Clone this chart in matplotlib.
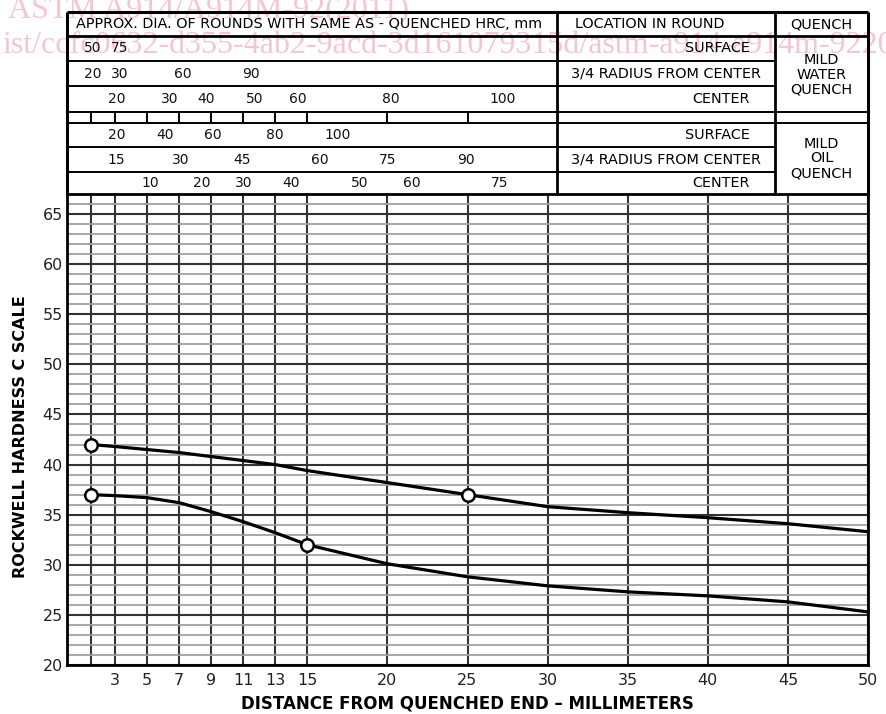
import matplotlib
matplotlib.use("Agg")
import matplotlib.pyplot as plt

plt.rcParams["font.family"] = ["DejaVu Sans"]

# jominy curve (distance mm, HRC)
distancia = [1.5, 3, 5, 7, 9, 11, 13, 15, 20, 25, 30, 35, 40, 45, 50]
dureza_sup = [42.0, 41.8, 41.5, 41.2, 40.8, 40.4, 40.0, 39.4, 38.2, 37.0, 35.8, 35.2, 34.7, 34.1, 33.3]
dureza_inf = [37.0, 36.9, 36.7, 36.2, 35.3, 34.3, 33.2, 32.0, 30.1, 28.8, 27.9, 27.3, 26.9, 26.3, 25.3]
marcas_sup = [0, 9]   # open circles at 1.5 and 25 mm
marcas_inf = [0, 7]   # open circles at 1.5 and 15 mm

x_grade = [1.5, 3, 5, 7, 9, 11, 13, 15, 20, 25, 30, 35, 40, 45, 50]
x_rotulos = ["", "3", "5", "7", "9", "11", "13", "15", "20", "25", "30", "35", "40", "45", "50"]
y_ticks = [20, 25, 30, 35, 40, 45, 50, 55, 60, 65]

# round diameters (mm) and where they sit on the distance scale
agua_sup = ["50", "75"]
agua_sup_x = [1.6, 3.3]
agua_34 = ["20", "30", "60", "90"]
agua_34_x = [1.6, 3.3, 7.2, 11.5]
agua_centro = ["20", "30", "40", "50", "60", "80", "100"]
agua_centro_x = [3.1, 6.4, 8.7, 11.7, 14.4, 20.2, 27.2]
oleo_sup = ["20", "40", "60", "80", "100"]
oleo_sup_x = [3.1, 6.1, 9.1, 13.0, 16.9]
oleo_34 = ["15", "30", "45", "60", "75", "90"]
oleo_34_x = [3.1, 7.1, 10.9, 15.8, 20.0, 24.9]
oleo_centro = ["10", "20", "30", "40", "50", "60", "75"]
oleo_centro_x = [5.2, 8.4, 11.0, 14.0, 18.3, 21.5, 27.0]
marcas_faixa = [1.5, 3, 5, 7, 9, 11, 13, 15, 20, 25]

locais = ["SURFACE", "3/4 RADIUS FROM CENTER", "CENTER"]

W, H = 886, 714
fig = plt.figure(figsize=(W / 100, H / 100), dpi=100)

# marca d'agua
rosa = "#f5c6cf"
fig.text(8 / W, 1 - 17 / H, "ASTM A914/A914M-92(2011)", family="Liberation Serif",
         fontsize=23, color=rosa, va="baseline", ha="left", zorder=-5)
fig.text(2 / W, 1 - 53 / H, "ist/ccfc0632-d355-4ab2-9acd-3d161079315d/astm-a914-a914m-922011",
         family="Liberation Serif", fontsize=23, color=rosa, va="baseline", ha="left", zorder=-5)

# 1. grafico
ax = fig.add_axes([67 / W, 49 / H, 801 / W, 471 / H])
ax.set_xlim(0, 50)
ax.set_ylim(20, 67)
ax.set_xticks(x_grade)
ax.set_xticklabels(x_rotulos)
ax.set_yticks(y_ticks)
ax.set_yticks(range(20, 67), minor=True)
ax.tick_params(axis="both", which="both", length=0, labelsize=11.5, labelcolor="#222222")
ax.tick_params(axis="x", pad=6)
ax.tick_params(axis="y", pad=3)
ax.set_axisbelow(True)
ax.grid(axis="y", which="minor", color="#a0a0a0", lw=1.3)
ax.grid(axis="y", which="major", color="#333333", lw=1.5)
ax.grid(axis="x", which="major", color="#333333", lw=1.5)
for s in ax.spines.values():
    s.set_linewidth(2)
    s.set_color("black")

ax.plot(distancia, dureza_sup, color="black", lw=2.3, marker="o", markevery=marcas_sup,
        ms=9, mfc="white", mec="black", mew=1.8, zorder=5, clip_on=False)
ax.plot(distancia, dureza_inf, color="black", lw=2.3, marker="o", markevery=marcas_inf,
        ms=9, mfc="white", mec="black", mew=1.8, zorder=5, clip_on=False)

ax.set_ylabel("ROCKWELL HARDNESS C SCALE", fontsize=11.5, fontweight="bold")
ax.yaxis.set_label_coords(-0.049, 0.485)
ax.set_xlabel("DISTANCE FROM QUENCHED END \u2013 MILLIMETERS", fontsize=12, fontweight="bold")
ax.xaxis.set_label_coords(0.5, -0.062)

# 2. tabela acima do grafico (mesma escala em x, y em pixels do topo)
tb = fig.add_axes([67 / W, (H - 194) / H, 801 / W, 182 / H])
tb.set_xlim(0, 50)
tb.set_ylim(194, 12)
tb.axis("off")
col1, col2 = 30.6, 44.2
kw = dict(color="black", clip_on=False)

tb.hlines([12], 0, 50, lw=2.2, **kw)
tb.hlines([36], 0, 50, lw=2, **kw)
tb.hlines([61, 86, 147, 172], 0, col2, lw=1.4, **kw)
tb.hlines([112, 123], 0, 50, lw=1.4, **kw)
tb.vlines([0, 50], 12, 194, lw=2.2, **kw)
tb.vlines([col1, col2], 12, 194, lw=2, **kw)
tb.vlines(marcas_faixa, 112, 123, lw=1.4, **kw)

ft = 10.4
tb.text(0.56, 24.5, "APPROX. DIA. OF ROUNDS WITH SAME AS - QUENCHED HRC, mm", fontsize=ft,
        ha="left", va="center")
tb.text(31.7, 24.5, "LOCATION IN ROUND", fontsize=ft, ha="left", va="center")
tb.text((col2 + 50) / 2, 24.5, "QUENCH", fontsize=ft, ha="center", va="center")

linhas = [(agua_sup, agua_sup_x, 48.5), (agua_34, agua_34_x, 73.5), (agua_centro, agua_centro_x, 99),
          (oleo_sup, oleo_sup_x, 135), (oleo_34, oleo_34_x, 159.5), (oleo_centro, oleo_centro_x, 183)]
for rotulos, xs, y in linhas:
    for r, x in zip(rotulos, xs):
        tb.text(x, y, r, fontsize=10, ha="center", va="center", color="#111111")

for ys in ([48.5, 73.5, 99], [135, 159.5, 183]):
    for nome, y in zip(locais, ys):
        if nome.startswith("3/4"):
            tb.text((col1 + col2) / 2, y, nome, fontsize=ft, ha="center", va="center")
        else:
            tb.text(42.6, y, nome, fontsize=ft, ha="right", va="center")

tb.text((col2 + 50) / 2, 75, "MILD\nWATER\nQUENCH", fontsize=ft, ha="center", va="center",
        linespacing=1.08)
tb.text((col2 + 50) / 2, 158.5, "MILD\nOIL\nQUENCH", fontsize=ft, ha="center", va="center",
        linespacing=1.08)

fig.savefig("out.png", dpi=100)
